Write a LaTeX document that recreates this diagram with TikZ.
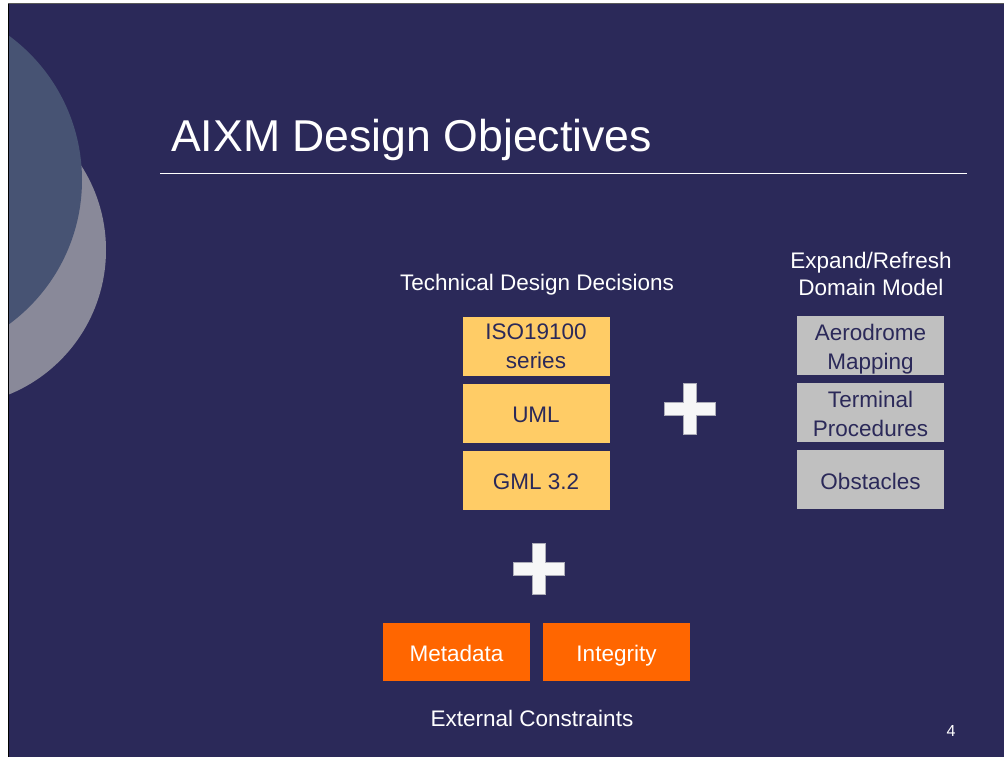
\documentclass[tikz,border=0pt]{standalone}
\usepackage{fontspec}
\setmainfont{Liberation Sans}
\usetikzlibrary{calc}
\definecolor{slidebg}{RGB}{43,41,89}
\definecolor{circA}{RGB}{71,83,115}
\definecolor{circB}{RGB}{137,137,153}
\definecolor{boxY}{RGB}{255,204,102}
\definecolor{boxG}{RGB}{192,192,192}
\definecolor{boxO}{RGB}{255,102,0}
\definecolor{plusW}{RGB}{247,247,247}
\begin{document}
\begin{tikzpicture}[x=1pt,y=-1pt,
  boxbase/.style={draw=none,minimum width=147pt,minimum height=59pt,align=center,inner sep=0pt,font=\fontsize{22.5}{29}\selectfont},
  yellowbox/.style={boxbase,fill=boxY,text=slidebg},
  graybox/.style={boxbase,fill=boxG,text=slidebg},
  onebox/.style={text height=19pt,text depth=0pt},
  orangebox/.style={boxbase,onebox,fill=boxO,text=white,minimum height=58pt},
  label/.style={text=white,font=\fontsize{22.5}{27}\selectfont,align=center,inner sep=0pt},
  plussign/.style={fill=plusW,draw=circB!70,line width=0.5pt}
]
\useasboundingbox (0,0) rectangle (1004,757);
\fill[white] (0,0) rectangle (1004,757);
\fill[slidebg] (8,4) rectangle (1004,757);
\begin{scope}
  \clip (8,4) rectangle (1004,757);
  \fill[circB] (-50,250) circle (156);
  \fill[circA] (-97,180) circle (179);
\end{scope}
\draw[black,line width=1pt] (8,4) -- (8,757);
\draw[gray!70!black,line width=1pt] (8,4) -- (1004,4);

\node[anchor=base west,text=white,font=\fontsize{44.6}{54}\selectfont,inner sep=0pt] (title) at (171,152) {AIXM Design Objectives};
\draw[white,line width=1pt] (160,173) -- (967,173);

\node[label] (tdd) at (537,284.5) {Technical Design Decisions};
\node[yellowbox] (iso) at (536,346.5) {ISO19100\\series};
\node[yellowbox,onebox] (uml) at (536,413) {UML};
\node[yellowbox,onebox] (gml) at (536,480) {GML 3.2};

\node[label] (exp) at (871,273.5) {Expand/Refresh\\Domain Model};
\node[graybox] (aero) at (870.5,345.5) {\rule{0pt}{24pt}Aerodrome\\Mapping};
\node[graybox] (term) at (870.5,412.5) {\rule{0pt}{19pt}Terminal\\Procedures};
\node[graybox,onebox] (obst) at (870.5,479.5) {Obstacles};

\node[orangebox] (meta) at (456.5,652) {Metadata};
\node[orangebox] (integ) at (616.5,652) {Integrity};
\node[label] (ext) at (532,718) {External Constraints};

\node[text=white,font=\fontsize{16}{18}\selectfont,inner sep=0pt] (pnum) at (951,731) {4};

% plus signs
\coordinate (p1) at (689.5,408.5);
\coordinate (p2) at (538.5,568.5);
\foreach \p in {p1,p2}{
  \draw[plussign] ($(\p)+(-6.5,-25.5)$) -- ($(\p)+(6.5,-25.5)$) -- ($(\p)+(6.5,-6.5)$)
    -- ($(\p)+(25.5,-6.5)$) -- ($(\p)+(25.5,6.5)$) -- ($(\p)+(6.5,6.5)$)
    -- ($(\p)+(6.5,25.5)$) -- ($(\p)+(-6.5,25.5)$) -- ($(\p)+(-6.5,6.5)$)
    -- ($(\p)+(-25.5,6.5)$) -- ($(\p)+(-25.5,-6.5)$) -- ($(\p)+(-6.5,-6.5)$) -- cycle;
}
\end{tikzpicture}
\end{document}
